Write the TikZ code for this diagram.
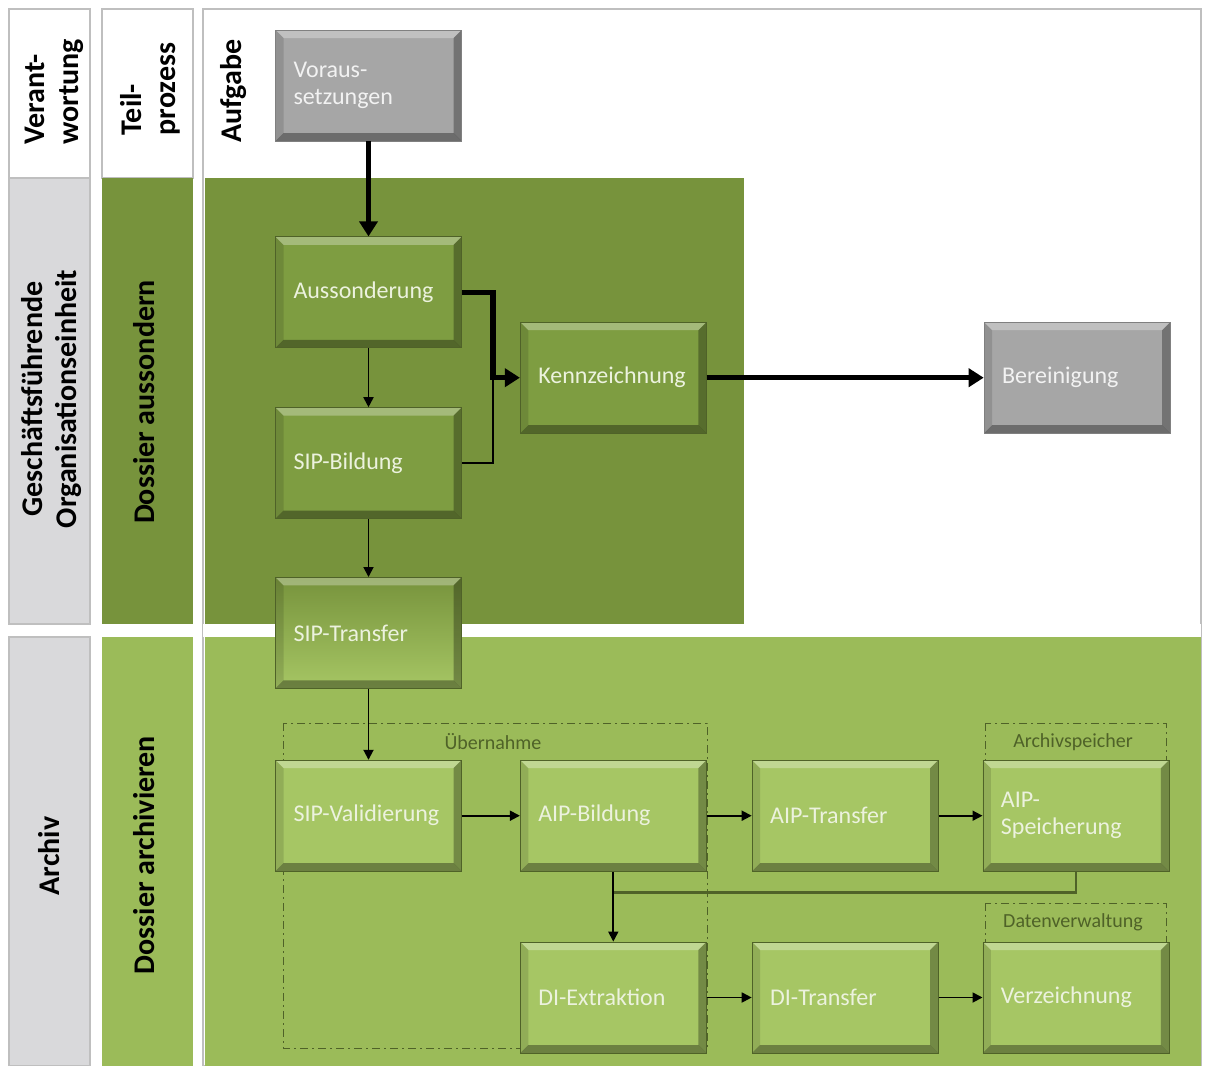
\documentclass[tikz,border=0pt]{standalone}
\usepackage{fontspec}
\setmainfont{Carlito}
\usepackage{xcolor}
\usepackage{tikz}
\usetikzlibrary{arrows.meta,calc,positioning}
\definecolor{framegrey}{RGB}{191,191,191}
\definecolor{lanegrey}{RGB}{217,217,219}
\definecolor{oliveband}{RGB}{119,147,60}
\definecolor{leafband}{RGB}{155,187,89}
\definecolor{olivefill}{RGB}{126,157,65}
\definecolor{leaffill}{RGB}{166,198,100}
\definecolor{stonefill}{RGB}{166,166,166}
\definecolor{edgegreen}{RGB}{79,98,40}
\definecolor{paletext}{RGB}{236,242,222}
\definecolor{stonetext}{RGB}{242,242,242}
\tikzset{
  bevel/.style={path picture={
    \path (path picture bounding box.north west) coordinate (bvnw)
          (path picture bounding box.north east) coordinate (bvne)
          (path picture bounding box.south west) coordinate (bvsw)
          (path picture bounding box.south east) coordinate (bvse);
    \fill[white,opacity=0.3] (bvnw) -- (bvne) -- ([shift={(-4pt,-4pt)}]bvne)
      -- ([shift={(4pt,-4pt)}]bvnw) -- cycle;
    \fill[black,opacity=0.3] (bvne) -- (bvse) -- ([shift={(-4pt,4pt)}]bvse)
      -- ([shift={(-4pt,-4pt)}]bvne) -- cycle;
    \fill[black,opacity=0.35] (bvsw) -- (bvse) -- ([shift={(-4pt,4pt)}]bvse)
      -- ([shift={(4pt,4pt)}]bvsw) -- cycle;
    \fill[black,opacity=0.12] (bvnw) -- (bvsw) -- ([shift={(4pt,4pt)}]bvsw)
      -- ([shift={(4pt,-4pt)}]bvnw) -- cycle;
  }},
  taskbox/.style={rectangle,minimum width=93pt,minimum height=55.5pt,
    text width=75pt,inner xsep=9pt,align=left,
    font=\fontsize{12}{13.5}\selectfont,bevel},
  olivebox/.style={taskbox,fill=olivefill,draw=edgegreen,line width=0.4pt,text=paletext},
  leafbox/.style={taskbox,fill=leaffill,draw=edgegreen,line width=0.4pt,text=paletext},
  bridgebox/.style={taskbox,top color=oliveband,bottom color=leaffill,
    draw=edgegreen,line width=0.4pt,text=paletext},
  stonebox/.style={taskbox,fill=stonefill,draw=gray,line width=0.4pt,text=stonetext},
  lanelabel/.style={rotate=90,font=\bfseries\fontsize{15}{17}\selectfont,inner sep=0pt},
  laneframe/.style={draw=framegrey,line width=0.6pt},
  groupframe/.style={draw=edgegreen,line width=0.5pt,
    dash pattern=on 4pt off 2pt on 1pt off 2pt},
  grouplabel/.style={font=\fontsize{10}{12}\selectfont,text=edgegreen},
  flow/.style={-{Triangle[length=5pt,width=5pt]},line width=0.9pt,draw=black},
  bigflow/.style={-{Triangle[length=7.5pt,width=9pt]},line width=2.6pt,draw=black},
  joinline/.style={line width=0.9pt,draw=black},
  storeline/.style={line width=1.2pt,draw=edgegreen}
}
\begin{document}
\begin{tikzpicture}[x=0.5pt,y=-0.5pt]
  \useasboundingbox (0,0) rectangle (1206,1066);
  \fill[white] (0,0) rectangle (1206,1066);
  \filldraw[laneframe,fill=white] (9,9) rectangle (90,178);
  \filldraw[laneframe,fill=lanegrey] (9,178) rectangle (90,624);
  \filldraw[laneframe,fill=lanegrey] (9,637) rectangle (90,1066);
  \filldraw[laneframe,fill=white] (102,9) rectangle (193,178);
  \fill[oliveband] (102,178) rectangle (193,624);
  \fill[leafband] (102,637) rectangle (193,1066);
  \filldraw[laneframe,fill=white] (203,9) rectangle (1201,1066);
  \fill[oliveband] (205,178) rectangle (744,624);
  \fill[white] (203,624) rectangle (1201,637);
  \fill[leafband] (205,637) rectangle (1201,1066);

  \node[lanelabel,align=left] (verant) at (54,92) {Verant-\\wortung};
  \node[lanelabel,align=left] (teil) at (150,89) {Teil-\\prozess};
  \node[lanelabel] (aufgabe) at (234,91) {Aufgabe};
  \node[lanelabel,align=center] (goe) at (52,399) {Geschäftsführende\\Organisationseinheit};
  \node[lanelabel] (archiv) at (49,856) {Archiv};
  \node[lanelabel] (aussondern) at (144,402) {Dossier aussondern};
  \node[lanelabel] (archivieren) at (144,855) {Dossier archivieren};

  \draw[groupframe] (283,723) rectangle (707,1048);
  \draw[groupframe] (985,723) rectangle (1166,860);
  \draw[groupframe] (985,903) rectangle (1166,1040);
  \node[grouplabel] (uebl) at (493,742) {Übernahme};
  \node[grouplabel] (speil) at (1073,742) {Archivspeicher};
  \node[grouplabel] (verwl) at (1073,922) {Datenverwaltung};

  \node[stonebox] (vor) at (368.5,85.5) {Voraus-\\setzungen};
  \node[olivebox,below=47.5pt of vor] (auss) {Aussonderung};
  \node[olivebox,below=29.5pt of auss] (sipb) {SIP-Bildung};
  \coordinate (kmid) at ($(auss.east)!0.5!(sipb.east)$);
  \node[olivebox,right=29pt of kmid] (kenn) {Kennzeichnung};
  \node[stonebox,right=138.5pt of kenn] (ber) {Bereinigung};
  \node[bridgebox,below=29pt of sipb] (sipt) {SIP-Transfer};
  \node[leafbox,below=35.5pt of sipt] (sipv) {SIP-Validierung};
  \node[leafbox,right=29pt of sipv] (aipb) {AIP-Bildung};
  \node[leafbox,right=22.5pt of aipb] (aipt) {AIP-Transfer};
  \node[leafbox,right=22pt of aipt] (aips) {AIP-\\Speicherung};
  \node[leafbox,below=35pt of aipb] (die) {DI-Extraktion};
  \node[leafbox,right=22.5pt of die] (dit) {DI-Transfer};
  \node[leafbox,right=22pt of dit] (verz) {Verzeichnung};

  \coordinate (kjoin) at ([xshift=15.5pt]auss.east |- kenn.west);
  \coordinate (ajoin) at ($(aipb.south)!0.3!(die.north)$);
  \draw[bigflow] (vor) -- (auss);
  \draw[joinline] (sipb.east) -| (kjoin);
  \draw[bigflow] (auss.east) -| (kjoin) -- (kenn.west);
  \draw[bigflow] (kenn.east) -- (kenn.east -| ber.west);
  \draw[flow] (auss) -- (sipb);
  \draw[flow] (sipb) -- (sipt);
  \draw[flow] (sipt) -- (sipv);
  \draw[flow] (sipv) -- (aipb);
  \draw[flow] (aipb) -- (aipt);
  \draw[flow] (aipt) -- (aips);
  \draw[storeline] (aips.south) |- (ajoin);
  \draw[flow] (aipb) -- (die);
  \draw[flow] (die) -- (dit);
  \draw[flow] (dit) -- (verz);
\end{tikzpicture}
\end{document}
